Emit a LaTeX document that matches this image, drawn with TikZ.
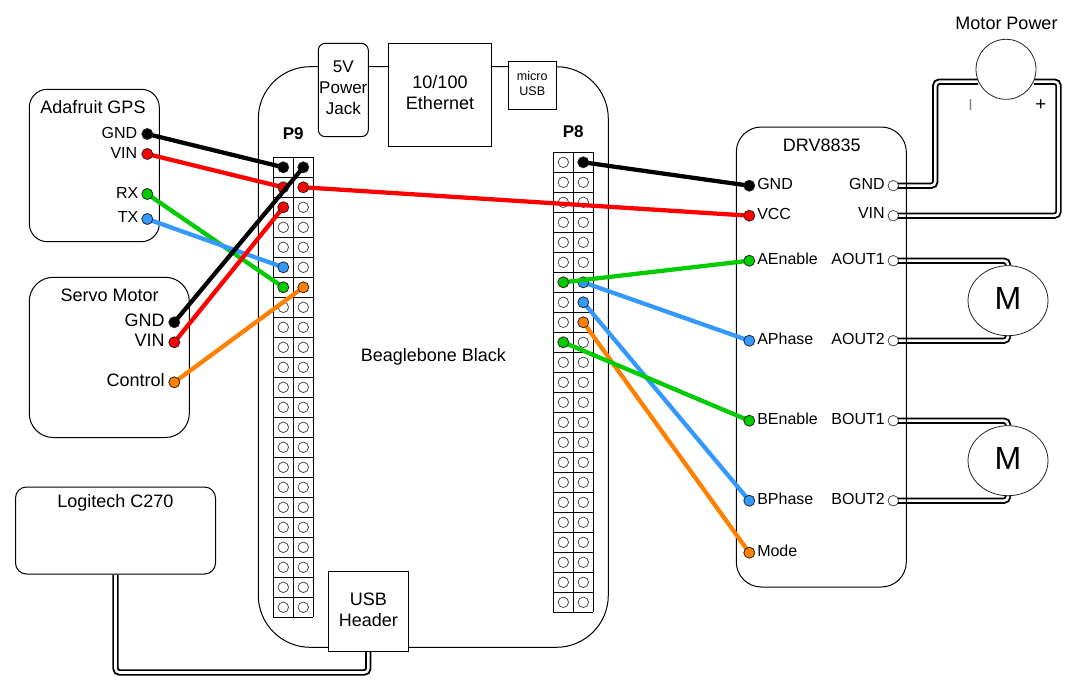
\documentclass[tikz,border=0pt]{standalone}
\usepackage{fontspec}
\setmainfont{Liberation Sans}
\usetikzlibrary{shapes.geometric}
\pgfdeclarelayer{dbl}\pgfdeclarelayer{board}\pgfdeclarelayer{wirelow}\pgfdeclarelayer{wiretop}\pgfdeclarelayer{pintop}
\pgfsetlayers{dbl,board,wirelow,main,wiretop,pintop}
\tikzset{
  sz/.style 2 args={minimum width=#1*0.75pt,minimum height=#2*0.75pt,inner sep=0pt},
  box/.style={draw=black,line width=0.75pt,align=center},
  rc/.style={rounded corners=#1*0.75pt},
  ftxt/.style={font=\fontsize{#1}{15.75}\selectfont},
  lab/.style={inner sep=0pt,font=\fontsize{12}{14}\selectfont},
  bigl/.style={inner sep=0pt,font=\fontsize{13.5}{16}\selectfont},
  pin/.style={circle,draw=black!85,line width=0.6pt,fill=#1,minimum size=11*0.75pt,inner sep=0pt},
  hole/.style={circle,draw=black!80,line width=0.5pt,fill=white,minimum size=10.5*0.75pt,inner sep=0pt},
  wire/.style={draw=#1,line width=3.2pt,line cap=round},
  dblwire/.style={draw=black,line width=1.4pt,double=white,double distance=1.9pt,rounded corners=3pt},
  gridl/.style={line width=0.75pt,draw=black},
  motor/.style={ellipse,draw=black!85,line width=0.6pt,fill=white,sz={80}{70},font=\fontsize{24}{26}\selectfont,text depth=3.6pt},
}
\definecolor{cred}{HTML}{FF0000}
\definecolor{cgreen}{HTML}{00CC00}
\definecolor{cblue}{HTML}{3399FF}
\definecolor{corange}{HTML}{FF8000}
\begin{document}
\begin{tikzpicture}[x=0.75pt,y=-0.75pt]
\useasboundingbox (0,0) rectangle (1078,692);
\begin{pgfonlayer}{dbl}
  \fill[white] (0,0) rectangle (1078,692);
\end{pgfonlayer}
\begin{pgfonlayer}{board}
  \node[box,sz={350}{580.6},rc=52,ftxt=13.5] (bbb) at (433.3,357) {Beaglebone Black};
  \node[box,fill=white,sz={50}{93.4},rc=7,ftxt=12.75,text depth=3pt] (jack) at (343.3,90) {5V\\Power\\Jack};
  \node[box,fill=white,sz={103.4}{103},ftxt=13.5,text depth=3pt] (eth) at (440,94.8) {10/100\\Ethernet};
  \node[box,fill=white,sz={48}{48.4},font=\fontsize{9.4}{11}\selectfont,text depth=3pt] (musb) at (532.3,85.5) {micro\\USB};
  \node[box,fill=white,sz={80}{80},ftxt=13.5,text depth=3pt] (usb) at (368.3,611.7) {USB\\Header};
  \node[box,sz={130}{152.4},rc=18] (gps) at (94.3,165.5) {};
  \node[box,sz={160}{160.2},rc=24] (servo) at (109.3,357.4) {};
  \node[box,fill=white,sz={200}{87},rc=11] (logi) at (115.5,530.5) {};
  \node[box,sz={170}{460},rc=25] (drv) at (821.3,357) {};
  % P9 header
  \fill[white] (273.3,157.3) rectangle (313.3,617.3);
  \foreach \r in {0,...,23} \draw[gridl] (273.3,157.3+20*\r) -- (313.3,157.3+20*\r);
  \foreach \c in {0,1,2} \draw[gridl] (273.3+20*\c,157.3) -- (273.3+20*\c,617.3);
  % P8 header
  \fill[white] (553.3,152.3) rectangle (593.3,612.3);
  \foreach \r in {0,...,23} \draw[gridl] (553.3,152.3+20*\r) -- (593.3,152.3+20*\r);
  \foreach \c in {0,1,2} \draw[gridl] (553.3+20*\c,152.3) -- (553.3+20*\c,612.3);
  % empty pins
  \foreach \r in {3,4,7,8,...,22} \node[hole] (p9l\r) at (283.3,167.3+20*\r) {};
  \foreach \r in {2,3,4,5,7,8,...,22} \node[hole] (p9r\r) at (303.3,167.3+20*\r) {};
  \foreach \r in {0,1,2,3,4,5,7,8,10,11,...,22} \node[hole] (p8l\r) at (563.3,162.3+20*\r) {};
  \foreach \r in {1,2,3,4,5,9,10,...,22} \node[hole] (p8r\r) at (583.3,162.3+20*\r) {};
\end{pgfonlayer}
% coloured pins
\node[pin=black] (p9l0) at (283.3,167.3) {};
\node[pin=black] (p9r0) at (303.3,167.3) {};
\node[pin=cred] (p9l1) at (283.3,187.3) {};
\node[pin=cred] (p9r1) at (303.3,187.3) {};
\node[pin=cred] (p9l2) at (283.3,207.3) {};
\node[pin=cblue] (p9l5) at (283.3,267.3) {};
\node[pin=cgreen] (p9l6) at (283.3,287.3) {};
\node[pin=corange] (p9r6) at (303.3,287.3) {};
\node[pin=black] (p8r0) at (583.3,162.3) {};
\node[pin=cblue] (p8r6) at (583.3,282.3) {};
\node[pin=cblue] (p8r7) at (583.3,302.3) {};
\node[pin=corange] (p8r8) at (583.3,322.3) {};
\node[pin=cgreen] (p8l9) at (563.3,342.3) {};
\node[pin=black] (gg) at (147.3,134) {};
\node[pin=cred] (gv) at (147.3,154) {};
\node[pin=cgreen] (grx) at (147.3,194) {};
\node[pin=cblue] (gtx) at (147.3,219) {};
\node[pin=black] (sg) at (174.3,322.3) {};
\node[pin=cred] (sv) at (174.3,342.3) {};
\node[pin=corange] (sc) at (174.3,382.3) {};
\node[pin=black] (dg) at (749.3,185.7) {};
\node[pin=cred] (dv) at (749.3,215.7) {};
\node[pin=cblue] (dap) at (749.3,340.7) {};
\node[pin=cgreen] (dbe) at (749.3,420.7) {};
\node[pin=cblue] (dbp) at (749.3,500.7) {};
\node[pin=corange] (dm) at (749.3,552.7) {};
\begin{pgfonlayer}{pintop}
  \node[pin=cgreen] (p8l6) at (563.3,282.3) {};
  \node[pin=cgreen] (dae) at (749.3,260.7) {};
\end{pgfonlayer}
% right terminals
\node[hole] (tg) at (893.3,185.7) {};
\node[hole] (tv) at (893.3,215.7) {};
\node[hole] (ta1) at (893.3,260.7) {};
\node[hole] (ta2) at (893.3,340.7) {};
\node[hole] (tb1) at (893.3,420.7) {};
\node[hole] (tb2) at (893.3,500.7) {};
% motors
\node[circle,draw=black!85,line width=0.6pt,fill=white,minimum size=60*0.75pt,inner sep=0pt] (mp) at (1006,69.3) {};
\node[motor] (m1) at (1008,300.7) {M};
\node[motor] (m2) at (1008,460.7) {M};
% labels
\node[bigl] (t1) at (93,107.3) {Adafruit GPS};
\node[lab,anchor=east] (t2) at (137.5,132.7) {GND};
\node[lab,anchor=east] (t3) at (137.5,152.7) {VIN};
\node[lab,anchor=east] (t4) at (138.5,192.7) {RX};
\node[lab,anchor=east] (t5) at (138.5,217.3) {TX};
\node[bigl] (t6) at (109.7,295.7) {Servo Motor};
\node[bigl,anchor=east] (t7) at (165,320) {GND};
\node[bigl,anchor=east] (t8) at (165,340) {VIN};
\node[bigl,anchor=east] (t9) at (165,380) {Control};
\node[bigl] (t10) at (115.5,503) {Logitech C270};
\node[inner sep=0pt,font=\bfseries\fontsize{12.75}{14}\selectfont] (t11) at (293.3,134) {P9};
\node[inner sep=0pt,font=\bfseries\fontsize{12.75}{14}\selectfont] (t12) at (573.3,131.7) {P8};
\node[bigl] (t13) at (821.7,145) {DRV8835};
\node[lab,anchor=west] (t14) at (757,184) {GND};
\node[lab,anchor=west] (t15) at (757,214) {VCC};
\node[lab,anchor=west] (t16) at (757,258.5) {AEnable};
\node[lab,anchor=west] (t17) at (757,338.5) {APhase};
\node[lab,anchor=west] (t18) at (757,418.5) {BEnable};
\node[lab,anchor=west] (t19) at (757,498.5) {BPhase};
\node[lab,anchor=west] (t20) at (757,550.5) {Mode};
\node[lab,anchor=east] (t21) at (885,184) {GND};
\node[lab,anchor=east] (t22) at (885,213) {VIN};
\node[lab,anchor=east] (t23) at (885,258.5) {AOUT1};
\node[lab,anchor=east] (t24) at (885,338.5) {AOUT2};
\node[lab,anchor=east] (t25) at (885,418.5) {BOUT1};
\node[lab,anchor=east] (t26) at (885,498.5) {BOUT2};
\node[bigl] (t27) at (1006.5,23) {Motor Power};
\node[lab,text=black!50] (t28) at (970.7,104.7) {I};
\node[inner sep=0pt,font=\fontsize{14}{16}\selectfont] (t29) at (1040.7,104.7) {+};
% coloured wires
\begin{pgfonlayer}{wirelow}
  \draw[wire=black] (gg.center) -- (p9l0.center);
  \draw[wire=cred] (gv.center) -- (p9l1.center);
  \draw[wire=cgreen] (grx.center) -- (p9l6.center);
  \draw[wire=cblue] (gtx.center) -- (p9l5.center);
  \draw[wire=cred] (sv.center) -- (p9l2.center);
  \draw[wire=corange] (sc.center) -- (p9r6.center);
  \draw[wire=cred] (p9r1.center) -- (dv.center);
  \draw[wire=black] (p8r0.center) -- (dg.center);
  \draw[wire=cblue] (p8r6.center) -- (dap.center);
  \draw[wire=cblue] (p8r7.center) -- (dbp.center);
  \draw[wire=corange] (p8r8.center) -- (dm.center);
  \draw[wire=cgreen] (p8l9.center) -- (dbe.center);
\end{pgfonlayer}
\begin{pgfonlayer}{wiretop}
  \draw[wire=black] (sg.center) -- (p9r0.center);
  \draw[wire=cgreen] (p8l6.center) -- (dae.center);
\end{pgfonlayer}
% double wires
\begin{pgfonlayer}{dbl}
  \draw[dblwire] (tg.center) -- ++(42,0) |- (mp.204);
  \draw[dblwire] (tv.center) -- ++(165.2,0) |- (mp.336);
  \draw[dblwire] (ta1.center) -| (m1.north);
  \draw[dblwire] (ta2.center) -| (m1.south);
  \draw[dblwire] (tb1.center) -| (m2.north);
  \draw[dblwire] (tb2.center) -| (m2.south);
  \draw[dblwire] (logi.south) -- ++(0,98) -| (usb.south);
\end{pgfonlayer}
\end{tikzpicture}
\end{document}
